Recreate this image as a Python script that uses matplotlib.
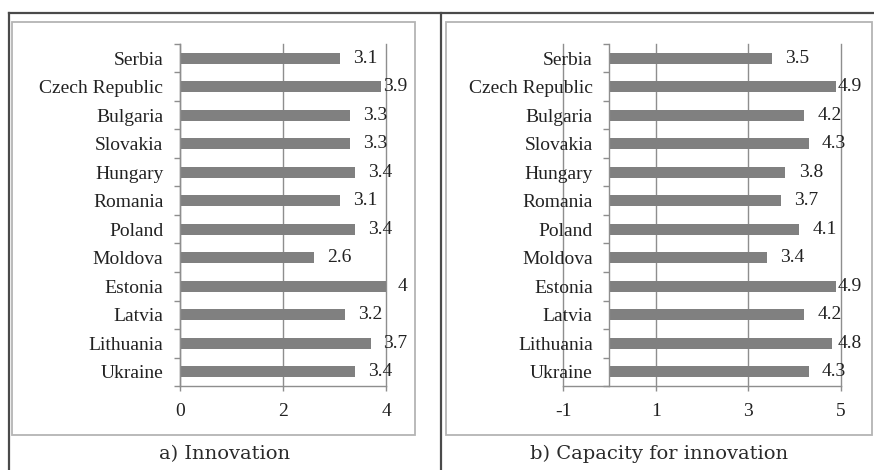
import matplotlib
matplotlib.use('Agg')
import matplotlib.pyplot as plt
from matplotlib.patches import Rectangle
from matplotlib.lines import Line2D

countries = ['Serbia', 'Czech Republic', 'Bulgaria', 'Slovakia', 'Hungary', 'Romania',
             'Poland', 'Moldova', 'Estonia', 'Latvia', 'Lithuania', 'Ukraine']
innovation = [3.1, 3.9, 3.3, 3.3, 3.4, 3.1, 3.4, 2.6, 4, 3.2, 3.7, 3.4]
capacity = [3.5, 4.9, 4.2, 4.3, 3.8, 3.7, 4.1, 3.4, 4.9, 4.2, 4.8, 4.3]

ticks_a = [0, 2, 4]
ticks_b = [-1, 1, 3, 5]
caption_a = 'a) Innovation'
caption_b = 'b) Capacity for innovation'

W, H = 874, 470
DPI = 100
fig = plt.figure(figsize=(W / DPI, H / DPI), dpi=DPI)

FONT = 'Liberation Serif'
BAR = '#808080'
GRID = '#8e8e8e'


def px_rect(x0, y0, x1, y1):
    # pixel box (top-left origin) -> figure fraction rect
    return [x0 / W, (H - y1) / H, (x1 - x0) / W, (y1 - y0) / H]


def panel(rect, vals, xlim, xticks):
    ax = fig.add_axes(px_rect(*rect))
    # spine position first: it resets the ticks
    for s in ['top', 'right']:
        ax.spines[s].set_visible(False)
    ax.spines['left'].set_position(('data', 0))
    for s in ['left', 'bottom']:
        ax.spines[s].set_color(GRID)
        ax.spines[s].set_linewidth(1)
    ax.spines['left'].set_zorder(4)

    y = list(range(len(countries)))
    ax.barh(y, vals, height=0.39, color=BAR, zorder=3)
    ax.set_xlim(*xlim)
    ax.set_ylim(len(countries) - 0.5, -0.5)
    ax.set_xticks(xticks)
    ax.set_xticklabels([str(t) for t in xticks], fontsize=14, family=FONT, color='#222')
    ax.set_yticks(y)
    ax.set_yticklabels(countries, fontsize=14, family=FONT, color='#222')
    ax.set_yticks([k + 0.5 for k in range(-1, len(countries))], minor=True)
    ax.tick_params(axis='y', which='major', length=0, pad=12)
    ax.tick_params(axis='y', which='minor', length=4.3, width=1, color=GRID, direction='out')
    ax.tick_params(axis='x', length=3.6, width=1, color=GRID, pad=9)
    ax.grid(axis='x', color=GRID, lw=1, zorder=0)
    for tk in ax.xaxis.get_major_ticks():
        tk.gridline.set_clip_on(False)
    ax.set_axisbelow(True)
    ax.patch.set_alpha(0)

    texts = []
    for i, v in enumerate(vals):
        t = ax.annotate(f'{v:g}', (v, i), xytext=(9.5, 0), textcoords='offset points',
                        va='center', ha='left', fontsize=14, family=FONT, color='#222',
                        annotation_clip=False, zorder=2)
        texts.append(t)
    return ax, texts


# table-like frame
fig.add_artist(Line2D([9 / W, 1], [1 - 13 / H] * 2, color='#4a4a4a', lw=1.6))
fig.add_artist(Line2D([9 / W] * 2, [0, 1 - 13 / H], color='#4a4a4a', lw=1.6))
fig.add_artist(Line2D([441 / W] * 2, [0, 1 - 13 / H], color='#4a4a4a', lw=1.6))
for r in [(12, 22, 415, 435), (446, 22, 872, 435)]:
    x0, y0, w, h = px_rect(*r)
    fig.add_artist(Rectangle((x0, y0), w, h, transform=fig.transFigure, fill=False,
                             edgecolor='#b4b4b4', lw=1.3))

ax_a, texts_a = panel((180, 44, 386, 386), innovation, (0, 4), ticks_a)
ax_b, texts_b = panel((563, 44, 841, 386), capacity, (-1, 5), ticks_b)

# keep data labels inside the chart boxes
fig.canvas.draw()
r = fig.canvas.get_renderer()
for texts, clamp in [(texts_a, 407), (texts_b, 862)]:
    for t in texts:
        bb = t.get_window_extent(r)
        over = bb.x1 - clamp
        if over > 0:
            t.xyann = (9.5 - over * 72 / DPI, 0)

fig.text(225 / W, 1 - 454 / H, caption_a, ha='center', va='center', fontsize=14,
         family='DejaVu Serif', color='#2a2a2a')
fig.text(659 / W, 1 - 454 / H, caption_b, ha='center', va='center', fontsize=14,
         family='DejaVu Serif', color='#2a2a2a')

fig.savefig('out.png', dpi=DPI)
